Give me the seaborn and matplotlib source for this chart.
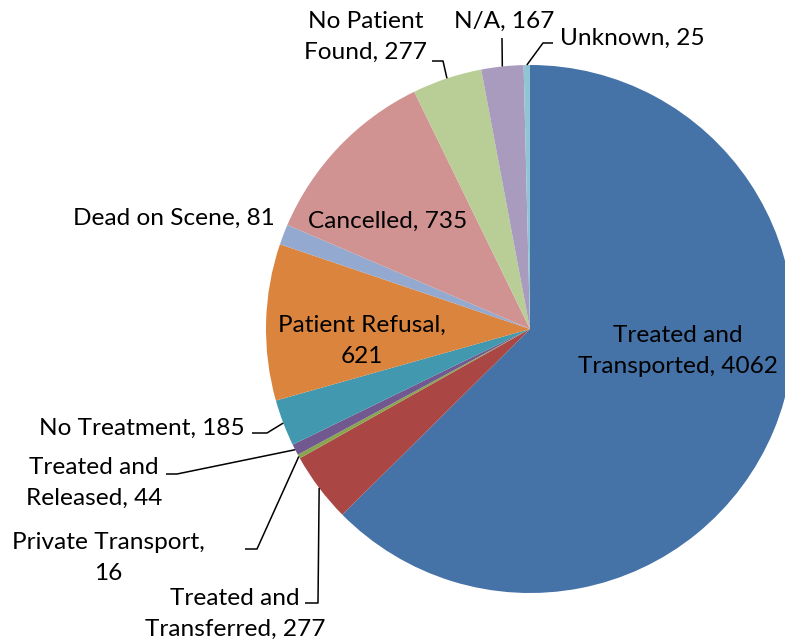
import numpy as np
import matplotlib
matplotlib.use("Agg")
import matplotlib.pyplot as plt
import seaborn as sns

categories = ["Treated and Transported", "Treated and Transferred", "Private Transport",
              "Treated and Released", "No Treatment", "Patient Refusal", "Dead on Scene",
              "Cancelled", "No Patient Found", "N/A", "Unknown"]
values = [4062, 277, 16, 44, 185, 621, 81, 735, 277, 167, 25]
labels = ["Treated and\nTransported, 4062", "Treated and\nTransferred, 277",
          "Private Transport,\n16", "Treated and\nReleased, 44", "No Treatment, 185",
          "Patient Refusal,\n621", "Dead on Scene, 81", "Cancelled, 735",
          "No Patient\nFound, 277", "N/A, 167", "Unknown, 25"]
colors = ["#4572A7", "#AA4643", "#89A54E", "#71588F", "#4198AF", "#DB843D",
          "#93A9CF", "#D19392", "#B9CD96", "#A99BBD", "#92C5D3"]

sns.set_theme(style="white")
plt.rcParams['font.family'] = ['Lato', 'DejaVu Sans']

W, H = 785, 643
fig = plt.figure(figsize=(W / 100, H / 100), dpi=100)
ax = fig.add_axes([0, 0, 1, 1])

CX, CY, R = 530, 329, 264  # pixel coords (y from top)

def py(y):
    return H - y

palette = sns.color_palette(colors)
ax.pie(values, colors=palette, startangle=90, counterclock=False,
       center=(CX, py(CY)), radius=R, wedgeprops=dict(linewidth=0))
ax.set_xlim(0, W)
ax.set_ylim(0, H)
ax.set_aspect('equal')
ax.axis('off')

# slice mid angles (clockwise from top)
total = float(np.sum(values))
cum = np.cumsum([0] + values[:-1]) / total
mid = (cum + np.array(values) / total / 2) * 2 * np.pi

def edge(i):
    a = mid[i]
    return CX + R * np.sin(a), CY - R * np.cos(a)

fs = 17.6
# label layout: (x, y, ha) in pixel coords, and leader elbow points
layout = {
    0: (678, 351, 'center', None),
    1: (235, 614, 'center', [(318, 603), (305, 603)]),
    2: (108, 558, 'center', [(257, 549), (245, 549)]),
    3: (94, 483, 'center', [(177, 474), (166, 474)]),
    4: (245, 428, 'right', [(267, 433), (252, 433)]),
    5: (362, 341, 'center', None),
    6: (275, 218, 'right', None),
    7: (388, 221, 'center', None),
    8: (366, 37, 'center', [(443, 61), (432, 61)]),
    9: (504, 21, 'center', [(502, 38)]),
    10: (560, 38, 'left', [(543, 43), (553, 43)]),
}

for i, (x, y, ha, pts) in layout.items():
    ax.text(x, py(y), labels[i], ha=ha, va='center', fontsize=fs,
            color='black', multialignment='center', linespacing=1.55)
    if pts:
        ex, ey = edge(i)
        xs = [ex] + [p[0] for p in pts]
        ys = [py(ey)] + [py(p[1]) for p in pts]
        ax.plot(xs, ys, color='black', linewidth=1.1, solid_capstyle='butt')

fig.savefig("out.png", dpi=100)
